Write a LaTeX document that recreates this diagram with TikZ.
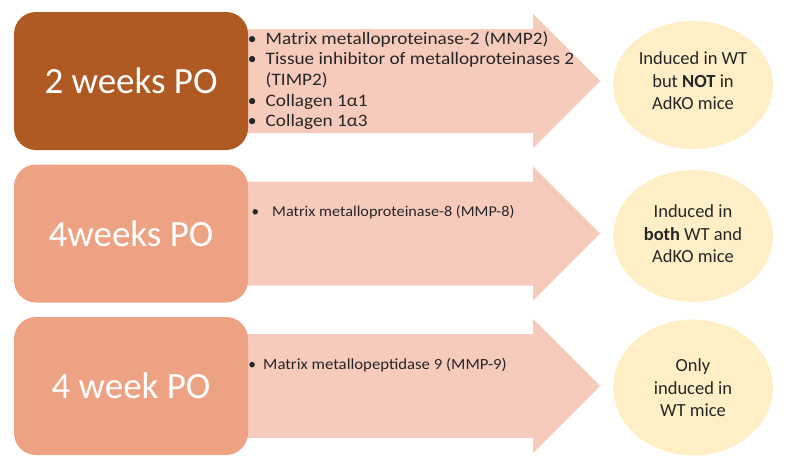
\documentclass[tikz,border=0pt]{standalone}
\usepackage{fontspec}
\usepackage{graphicx}
\setmainfont{Carlito}
\usetikzlibrary{shapes.geometric}
\definecolor{boxdark}{HTML}{AF5A22}
\definecolor{boxlight}{HTML}{ECA283}
\definecolor{arrowfill}{HTML}{F6CBBC}
\definecolor{ellfill}{HTML}{FEEFC6}
\definecolor{txtdark}{HTML}{262626}
\newcommand\widetxt[1]{\scalebox{1.1}[1]{#1}}
\newcommand\widetxtb[1]{\scalebox{1.08}[1]{#1}}
\begin{document}
\begin{tikzpicture}[x=1pt,y=-1pt,
  pobox/.style={rounded corners=22pt, minimum width=234pt, minimum height=138pt,
    inner sep=0pt, text=white, font=\fontsize{37}{40}\selectfont},
  blob/.style={ellipse, fill=ellfill, minimum width=160pt, minimum height=128pt, inner sep=0pt},
  blobtext/.style={align=center, text=txtdark, inner sep=0pt, font=\fontsize{18.5}{22.5}\selectfont},
  itemA/.style={anchor=base west, inner sep=0pt, text=txtdark, font=\fontsize{17.5}{20}\selectfont},
  itemB/.style={anchor=base west, inner sep=0pt, text=txtdark, font=\fontsize{15}{18}\selectfont},
  itemC/.style={anchor=base west, inner sep=0pt, text=txtdark, font=\fontsize{15.5}{18}\selectfont},
  fatarrow/.style={fill=arrowfill}]
\useasboundingbox (0,0) rectangle (787,474);
% arrows
\coordinate (a1) at (600,81);
\coordinate (a2) at (600,233.5);
\coordinate (a3) at (600,386);
\foreach \c in {a1,a2,a3}{
  \fill[fatarrow] ([shift={(-360,-52)}]\c) -- ([shift={(-67,-52)}]\c) -- ([shift={(-67,-67)}]\c)
    -- (\c) -- ([shift={(-67,67)}]\c) -- ([shift={(-67,52)}]\c) -- ([shift={(-360,52)}]\c) -- cycle;
}
% boxes
\node[pobox, fill=boxdark] (b1) at (131,81) {2 weeks PO};
\node[pobox, fill=boxlight] (b2) at (131,233.5) {4weeks PO};
\node[pobox, fill=boxlight] (b3) at (131,386) {4 week PO};
% ellipses
\node[blob] (e1) at (693,85) {};
\node[blob, minimum height=132pt] (e2) at (693,236) {};
\node[blob, minimum height=136pt] (e3) at (693,387.5) {};
\node[blobtext] (t1) at (693,81) {Induced in WT\\but \textbf{NOT} in\\AdKO mice};
\node[blobtext] (t2) at (693,234) {Induced in\\\textbf{both} WT and\\AdKO mice};
\node[blobtext] (t3) at (693,388) {Only\\induced in\\WT mice};
% lists
\node[itemA] (l11) at (265.5,44.3) {\llap{•\hspace{9pt}}\widetxt{Matrix metalloproteinase-2 (MMP2)}};
\node[itemA] (l12) at (265.5,64.3) {\llap{•\hspace{9pt}}\widetxt{Tissue inhibitor of metalloproteinases 2}};
\node[itemA] (l13) at (265.5,85) {\widetxt{(TIMP2)}};
\node[itemA] (l14) at (265.5,106) {\llap{•\hspace{9pt}}\widetxt{Collagen 1α1}};
\node[itemA] (l15) at (265.5,126) {\llap{•\hspace{9pt}}\widetxt{Collagen 1α3}};
\node[itemB] (l21) at (272,216.5) {\llap{•\hspace{13pt}}\widetxtb{Matrix metalloproteinase-8 (MMP-8)}};
\node[itemC] (l31) at (263,369) {\llap{•\hspace{7pt}}\widetxtb{Matrix metallopeptidase 9 (MMP-9)}};
\end{tikzpicture}
\end{document}
